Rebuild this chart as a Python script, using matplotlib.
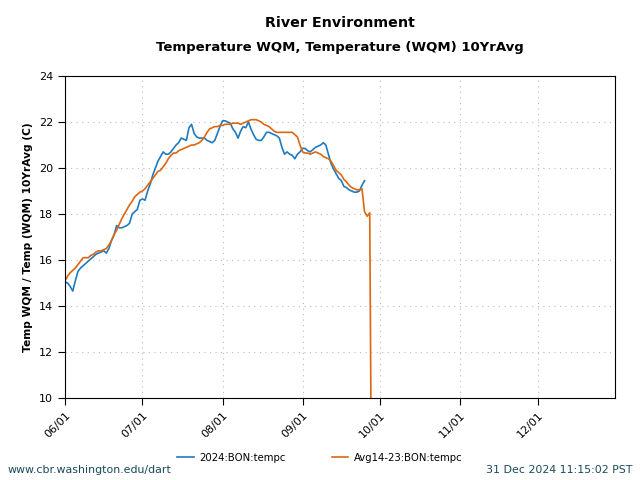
import matplotlib
matplotlib.use("Agg")
import matplotlib.pyplot as plt
import matplotlib.dates as mdates
import numpy as np
import datetime as dt

start = dt.date(2024, 6, 1)

blue_vals = [15.05, 15.0, 14.85, 14.65, 15.1, 15.5, 15.65, 15.75, 15.85, 15.95,
             16.05, 16.15, 16.25, 16.3, 16.35, 16.4, 16.3, 16.5, 16.85, 17.1,
             17.5, 17.4, 17.4, 17.45, 17.5, 17.6, 18.0, 18.1, 18.2, 18.6,
             18.65, 18.6, 19.0, 19.3, 19.7, 20.0, 20.3, 20.5, 20.7, 20.6,
             20.6, 20.7, 20.85, 21.0, 21.1, 21.3, 21.25, 21.2, 21.75, 21.9,
             21.5, 21.35, 21.3, 21.3, 21.3, 21.2, 21.15, 21.1, 21.2, 21.5,
             21.8, 22.05, 22.05, 22.0, 21.95, 21.7, 21.55, 21.3, 21.6, 21.8,
             21.75, 22.0, 21.7, 21.45, 21.25, 21.2, 21.2, 21.35, 21.55, 21.55,
             21.5, 21.45, 21.4, 21.3, 20.9, 20.6, 20.7, 20.6, 20.55, 20.4,
             20.6, 20.7, 20.85, 20.85, 20.75, 20.7, 20.8, 20.9, 20.95, 21.0,
             21.1, 21.0, 20.6, 20.2, 19.95, 19.75, 19.55, 19.45, 19.2, 19.15,
             19.05, 19.0, 18.95, 18.95, 19.0, 19.25, 19.45]

orange_vals = [15.1, 15.3, 15.45, 15.55, 15.65, 15.8, 15.95, 16.1, 16.1, 16.1,
               16.2, 16.25, 16.35, 16.4, 16.4, 16.45, 16.5, 16.65, 16.85, 17.1,
               17.3, 17.55, 17.8, 18.0, 18.2, 18.4, 18.55, 18.75, 18.85, 18.95,
               19.0, 19.1, 19.25, 19.4, 19.55, 19.7, 19.85, 19.9, 20.05, 20.2,
               20.4, 20.55, 20.65, 20.65, 20.75, 20.8, 20.85, 20.9, 20.95, 21.0,
               21.0, 21.05, 21.1, 21.2, 21.35, 21.55, 21.7, 21.75, 21.8, 21.8,
               21.85, 21.85, 21.9, 21.9, 21.9, 21.95, 21.95, 21.95, 21.9, 21.95,
               22.0, 22.05, 22.1, 22.1, 22.1, 22.05, 22.0, 21.9, 21.85, 21.8,
               21.7, 21.6, 21.55, 21.55, 21.55, 21.55, 21.55, 21.55, 21.55, 21.45,
               21.35, 21.0, 20.7, 20.65, 20.65, 20.6, 20.65, 20.7, 20.65, 20.6,
               20.5, 20.45, 20.4, 20.3, 20.1, 19.9, 19.8, 19.7, 19.5, 19.4,
               19.25, 19.15, 19.1, 19.05, 19.05, 19.1, 18.1, 17.9, 18.05, 0.0]

blue_dates = [start + dt.timedelta(days=i) for i in range(len(blue_vals))]
orange_dates = [start + dt.timedelta(days=i) for i in range(len(orange_vals))]

tick_dates = [dt.date(2024, m, 1) for m in range(6, 13)]
yticks = [10, 12, 14, 16, 18, 20, 22, 24]

fig = plt.figure(figsize=(6.4, 4.8), dpi=100)
ax = fig.add_axes([0.1016, 0.1708, 0.8594, 0.6709])

ax.plot(blue_dates, blue_vals, color='#1f7bbf', lw=1.2, label='2024:BON:tempc')
ax.plot(orange_dates, orange_vals, color='#e0650f', lw=1.2, label='Avg14-23:BON:tempc')

ax.set_xlim(dt.date(2024, 6, 1), dt.date(2024, 12, 31))
ax.set_ylim(10, 24)
ax.set_xticks(tick_dates)
ax.xaxis.set_major_formatter(mdates.DateFormatter('%m/%d'))
ax.set_yticks(yticks)
ax.tick_params(axis='both', labelsize=8, length=5, direction='out')
plt.setp(ax.get_xticklabels(), rotation=45, ha='right', rotation_mode='anchor')
ax.grid(True, linestyle=(0, (1, 4)), color='#bbbbbb', lw=0.8)
ax.set_ylabel('Temp WQM / Temp (WQM) 10YrAvg (C)', fontsize=7.7, fontweight='bold')

fig.text(0.531, 0.952, 'River Environment', ha='center', va='center', fontsize=10.3, fontweight='bold')
fig.text(0.531, 0.902, 'Temperature WQM, Temperature (WQM) 10YrAvg', ha='center', va='center',
         fontsize=9.5, fontweight='bold')

fig.legend(loc='center', bbox_to_anchor=(0.5, 0.046), ncol=2, frameon=False, fontsize=7.3,
           handlelength=1.6, handletextpad=0.6, columnspacing=4.5)
fig.text(0.012, 0.021, 'www.cbr.washington.edu/dart', ha='left', va='center', fontsize=7.9, color='#1a4a5a')
fig.text(0.988, 0.021, '31 Dec 2024 11:15:02 PST', ha='right', va='center', fontsize=7.9, color='#1a4a5a')

fig.savefig('out.png', dpi=100)
